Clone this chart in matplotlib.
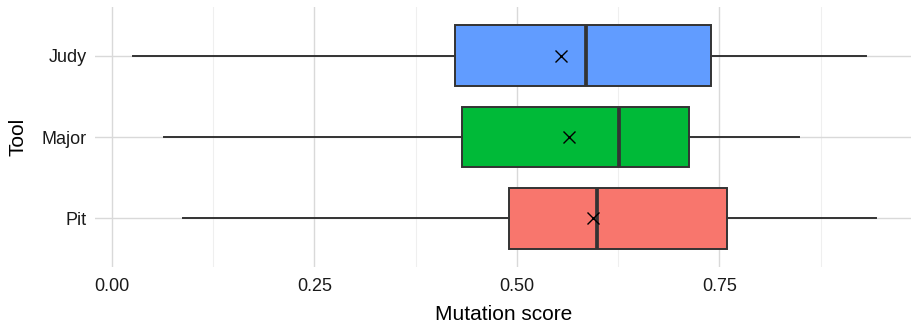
import matplotlib
matplotlib.use("Agg")
import matplotlib.pyplot as plt
from matplotlib.ticker import MultipleLocator, FormatStrFormatter

# box statistics (bottom to top)
tools = ["Pit", "Major", "Judy"]
colors = ["#F8766D", "#00BA38", "#619CFF"]
whis_lo = [0.088, 0.064, 0.026]
q1 = [0.490, 0.432, 0.423]
median = [0.599, 0.626, 0.586]
q3 = [0.760, 0.713, 0.740]
whis_hi = [0.944, 0.848, 0.931]
means = [0.594, 0.564, 0.554]

plt.rcParams['font.family'] = ['Liberation Sans', 'DejaVu Sans']

fig = plt.figure(figsize=(9.12, 3.27), dpi=100)
ax = fig.add_axes([95 / 912, 60 / 327, 817 / 912, 260 / 327])

stats = []
for i in range(len(tools)):
    stats.append({"label": tools[i], "whislo": whis_lo[i], "q1": q1[i],
                  "med": median[i], "q3": q3[i], "whishi": whis_hi[i],
                  "mean": means[i], "fliers": []})

bp = ax.bxp(stats, positions=[1, 2, 3], widths=0.75, vert=False,
            patch_artist=True, showcaps=False, showmeans=True,
            boxprops=dict(edgecolor="#333333", linewidth=1.4),
            whiskerprops=dict(color="#333333", linewidth=1.4),
            medianprops=dict(color="#333333", linewidth=2.7),
            meanprops=dict(marker="x", markeredgecolor="black",
                           markersize=8, markeredgewidth=1.0),
            zorder=3)
for patch, c in zip(bp["boxes"], colors):
    patch.set_facecolor(c)

ax.set_xlim(-0.021, 0.988)
ax.set_ylim(0.4, 3.6)
ax.xaxis.set_major_locator(MultipleLocator(0.25))
ax.xaxis.set_minor_locator(MultipleLocator(0.125))
ax.xaxis.set_major_formatter(FormatStrFormatter("%.2f"))

ax.grid(True, which="major", axis="both", color="#D9D9D9", linewidth=1.0, zorder=0)
ax.grid(True, which="minor", axis="x", color="#EFEFEF", linewidth=0.8, zorder=0)
ax.set_axisbelow(True)
for s in ax.spines.values():
    s.set_visible(False)
ax.tick_params(axis="both", which="both", length=0, labelsize=13, labelcolor="#1a1a1a")
ax.tick_params(axis="x", pad=8)
ax.tick_params(axis="y", pad=6)

ax.set_xlabel("Mutation score", fontsize=15, labelpad=7)
ax.set_ylabel("Tool", fontsize=15, labelpad=10)

fig.savefig("out.png", dpi=100)
